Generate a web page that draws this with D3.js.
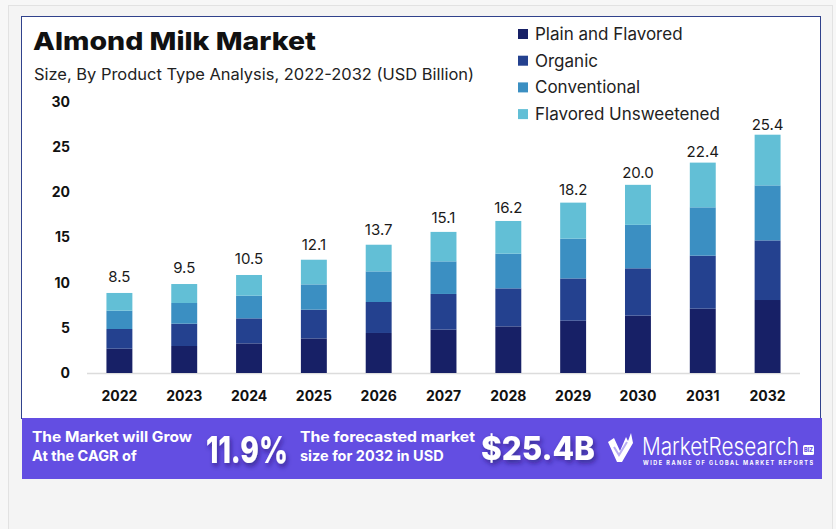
<!DOCTYPE html>
<html lang="en">
<head>
<meta charset="utf-8">
<title>Almond Milk Market</title>
<script src="https://cdn.jsdelivr.net/npm/d3@7"></script>
<style>
  body { margin: 0; background: #f7f7f7; }
  svg { display: block; font-family: Inter, "Open Sans", sans-serif; }
</style>
</head>
<body>
<script>
"use strict";

// data
const years = ["2022","2023","2024","2025","2026","2027","2028","2029","2030","2031","2032"];
const totals = ["8.5","9.5","10.5","12.1","13.7","15.1","16.2","18.2","20.0","22.4","25.4"];
const totalValues = [8.5, 9.5, 10.5, 12.1, 13.7, 15.1, 16.2, 18.2, 20.0, 22.4, 25.4];
const plainFlavored = [2.69, 2.99, 3.28, 3.83, 4.43, 4.80, 5.16, 5.79, 6.35, 7.12, 8.08];
const organic = [2.18, 2.47, 2.77, 3.18, 3.43, 3.95, 4.21, 4.68, 5.24, 5.87, 6.60];
const conventional = [2.03, 2.29, 2.51, 2.80, 3.39, 3.61, 3.84, 4.40, 4.81, 5.35, 6.09];
const flavoredUnsweetened = [1.96, 2.10, 2.29, 2.73, 2.95, 3.26, 3.62, 3.99, 4.43, 4.95, 5.61];
const seriesNames = ["Plain and Flavored", "Organic", "Conventional", "Flavored Unsweetened"];
const yTicks = [0, 5, 10, 15, 20, 25, 30];

const colors = ["#172066", "#24418f", "#3b8fc2", "#62bfd6"];

const w = 836, h = 529;

const svg = d3.select("body").append("svg")
  .attr("width", w)
  .attr("height", h);

// squeeze a text horizontally to a given width (keeps its real box in sync)
function fitWidth(sel, x0, y0, width) {
  const natural = sel.node().getComputedTextLength();
  sel.attr("x", 0).attr("y", 0)
    .attr("transform", "translate(" + x0 + "," + y0 + ") scale(" + (width / natural) + ",1)");
}

// outer card + white panel
svg.append("rect").attr("x", 8.5).attr("y", 5.5).attr("width", 824).attr("height", 530)
  .attr("fill", "#f4f4f4").attr("stroke", "#e2e2e2");
svg.append("rect").attr("x", 21.5).attr("y", 16.5).attr("width", 799).attr("height", 402)
  .attr("fill", "#fff").attr("stroke", "#30428c");

// title
svg.append("text").attr("x", 33).attr("y", 50)
  .style("font-size", "25px").style("font-weight", 800).attr("fill", "#111")
  .attr("textLength", 283).attr("lengthAdjust", "spacingAndGlyphs")
  .text("Almond Milk Market");
svg.append("text").attr("x", 34).attr("y", 80)
  .style("font-size", "16px").attr("fill", "#222")
  .attr("textLength", 440).attr("lengthAdjust", "spacingAndGlyphs")
  .text("Size, By Product Type Analysis, 2022-2032 (USD Billion)");

// scales
const x = d3.scaleBand().domain(years).range([87, 800]).paddingInner(0.6).paddingOuter(0.3);
const y = d3.scaleLinear().domain([0, 30]).range([373, 102]);

// y axis
const yAxis = svg.append("g").attr("transform", "translate(70,0)")
  .call(d3.axisLeft(y).tickValues(yTicks).tickSize(0).tickPadding(0));
yAxis.select(".domain").remove();
yAxis.selectAll("text").style("font-size", "14px").style("font-weight", 700)
  .style("font-family", "Inter, sans-serif").attr("fill", "#111");

// baseline
svg.append("line").attr("x1", 87).attr("x2", 800)
  .attr("y1", y(0) + 0.5).attr("y2", y(0) + 0.5)
  .attr("stroke", "#dcdcdc").attr("stroke-width", 1.5);

// stacked bars
const rows = years.map((yr, i) => ({
  year: yr,
  s0: plainFlavored[i], s1: organic[i], s2: conventional[i], s3: flavoredUnsweetened[i]
}));
const stack = d3.stack().keys(["s0", "s1", "s2", "s3"])(rows);

svg.append("g").selectAll("g")
  .data(stack)
  .join("g")
  .attr("fill", (d, i) => colors[i])
  .selectAll("rect")
  .data(d => d)
  .join("rect")
  .attr("x", d => x(d.data.year))
  .attr("width", x.bandwidth())
  .attr("y", d => y(d[1]))
  .attr("height", d => y(d[0]) - y(d[1]));

// total labels
svg.append("g").selectAll("text")
  .data(years)
  .join("text")
  .attr("x", d => x(d) + x.bandwidth() / 2)
  .attr("y", (d, i) => y(totalValues[i]) - 14)
  .attr("text-anchor", "middle")
  .style("font-size", "15px").attr("fill", "#1a1a1a")
  .text((d, i) => totals[i]);

// x axis
const xAxis = svg.append("g").attr("transform", "translate(0," + y(0) + ")")
  .call(d3.axisBottom(x).tickSize(0).tickPadding(18));
xAxis.select(".domain").remove();
xAxis.selectAll("text").style("font-size", "14px").style("font-weight", 700)
  .style("font-family", "Inter, sans-serif").attr("fill", "#111");

// legend
const legend = svg.append("g").selectAll("g")
  .data(seriesNames)
  .join("g")
  .attr("transform", (d, i) => "translate(518," + (34 + i * 26.7) + ")");
legend.append("rect").attr("x", 0).attr("y", -5).attr("width", 10).attr("height", 10)
  .attr("fill", (d, i) => colors[i]);
legend.append("text").attr("x", 17).attr("y", 6)
  .style("font-size", "17px").attr("fill", "#222")
  .text(d => d);

// bottom banner
svg.append("rect").attr("x", 22).attr("y", 418).attr("width", 800).attr("height", 61)
  .attr("fill", "#634ee2");

const defs = svg.append("defs");
defs.append("filter").attr("id", "shadow")
  .attr("x", "-20%").attr("y", "-30%").attr("width", "140%").attr("height", "160%")
  .append("feDropShadow").attr("dx", 2).attr("dy", 3).attr("stdDeviation", 2.5)
  .attr("flood-color", "#1c1260").attr("flood-opacity", 0.6);

const banner = svg.append("g").attr("fill", "#fff").style("font-weight", 700);
banner.append("text").attr("x", 32).attr("y", 442).style("font-size", "14.5px")
  .attr("textLength", 160).attr("lengthAdjust", "spacingAndGlyphs").text("The Market will Grow");
banner.append("text").attr("x", 32).attr("y", 461).style("font-size", "14.5px")
  .text("At the CAGR of");
const cagr = banner.append("text").style("font-size", "37px")
  .style("font-weight", 800).attr("filter", "url(#shadow)").text("11.9%");
fitWidth(cagr, 206, 463, 82);
banner.append("text").attr("x", 300).attr("y", 442).style("font-size", "14.5px")
  .attr("textLength", 175).attr("lengthAdjust", "spacingAndGlyphs").text("The forecasted market");
banner.append("text").attr("x", 300).attr("y", 461).style("font-size", "14.5px")
  .text("size for 2032 in USD");
const size = banner.append("text").style("font-size", "32px")
  .style("font-weight", 800).attr("filter", "url(#shadow)").text("$25.4B");
fitWidth(size, 481, 460, 114);

// logo mark
svg.append("path")
  .attr("d", "M608,442 L614,438 L620,451 L626,437 L628,441 L631,433 L633,443 L622,462 L617,462 Z")
  .attr("fill", "#fff");
svg.append("path")
  .attr("d", "M614,447 L619,455 L627,442")
  .attr("fill", "none").attr("stroke", "#b9aef2").attr("stroke-width", 2);

const brand = svg.append("text")
  .style("font-size", "24px").style("font-weight", 300).attr("fill", "#fff")
  .text("MarketResearch");
fitWidth(brand, 642, 455, 157);
svg.append("rect").attr("x", 803).attr("y", 445).attr("width", 11).attr("height", 10)
  .attr("rx", 1.5).attr("fill", "#fff");
svg.append("text").attr("x", 808.5).attr("y", 452.2).attr("text-anchor", "middle")
  .style("font-size", "5.5px").style("font-weight", 800).attr("fill", "#634ee2")
  .text("BIZ");
svg.append("text").attr("x", 643).attr("y", 465)
  .style("font-size", "5.5px").style("font-weight", 700).attr("fill", "#fff")
  .attr("textLength", 170).attr("lengthAdjust", "spacing")
  .text("WIDE RANGE OF GLOBAL MARKET REPORTS");
</script>
</body>
</html>
